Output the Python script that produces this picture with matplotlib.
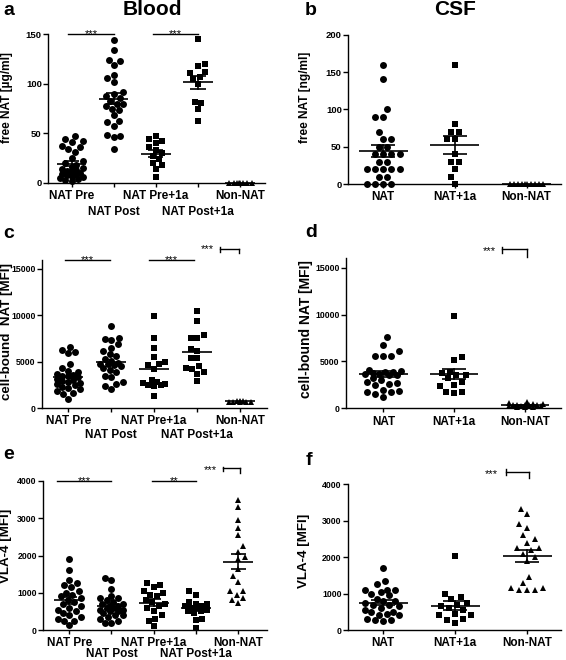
import numpy as np
import matplotlib
matplotlib.use('Agg')
import matplotlib.pyplot as plt
from matplotlib.transforms import blended_transform_factory, offset_copy

plt.rcParams['font.family'] = ['Liberation Sans', 'DejaVu Sans']
plt.rcParams['font.weight'] = 'bold'

W, H, DPI = 566, 660, 100

# ---------------- data ----------------
blood_labels = ['NAT Pre', 'NAT Post', 'NAT Pre+1a', 'NAT Post+1a', 'Non-NAT']
csf_labels = ['NAT', 'NAT+1a', 'Non-NAT']

# a: free NAT blood [µg/ml]
a_nat_pre = [47, 44, 42, 41, 37, 36, 34, 31, 25, 22, 20, 18, 16, 15, 14, 13, 12, 11, 10, 9, 8, 8, 7, 6, 5, 4, 3, 2]
a_nat_post = [144, 134, 124, 123, 119, 109, 106, 102, 92, 90, 88, 86, 83, 80, 80, 78, 75, 73, 68, 62, 61, 57, 48, 47, 46, 34]
a_nat_pre_1a = [47, 44, 42, 40, 36, 33, 30, 27, 24, 20, 18, 14, 6]
a_nat_post_1a = [145, 120, 118, 112, 111, 107, 105, 100, 82, 81, 75, 62]
a_non_nat = [0, 0, 0, 0, 0, 0, 0, 0]

# b: free NAT CSF [ng/ml]
b_nat = [160, 140, 100, 90, 90, 70, 60, 60, 50, 50, 40, 40, 40, 40, 30, 30, 20, 20, 20, 20, 20, 10, 10, 0, 0, 0, 0]
b_nat_1a = [160, 80, 70, 70, 60, 60, 40, 30, 30, 20, 10, 0]
b_non_nat = [0, 0, 0, 0, 0, 0, 0, 0, 0, 0]

# c: cell-bound NAT blood [MFI]
c_nat_pre = [6600, 6300, 6000, 5900, 4700, 4300, 4000, 3900, 3700, 3600, 3500, 3400, 3300, 3100, 3000, 2900, 2800, 2700, 2600, 2500, 2300, 2200, 2000, 1800, 1600, 1500, 1000]
c_nat_post = [8800, 7600, 7400, 7300, 6900, 6500, 6200, 5800, 5600, 5300, 5100, 4900, 4800, 4600, 4500, 4300, 4100, 3900, 3500, 3300, 2800, 2600, 2400, 2000, 4700]
c_nat_pre_1a = [9900, 7600, 6500, 5500, 5000, 4600, 4800, 4200, 3000, 2800, 2700, 2600, 2500, 2500, 2400, 1300]
c_nat_post_1a = [10500, 9400, 7900, 7600, 7600, 6400, 6200, 5400, 5400, 4500, 4300, 4200, 3900, 3700, 2900]
c_non_nat = [800, 750, 700, 700, 650, 650, 600, 800]

# d: cell-bound NAT CSF [MFI]
d_nat = [7600, 6800, 6100, 5600, 5600, 5600, 4100, 4000, 3900, 3900, 3800, 3700, 3700, 3600, 3500, 3200, 3000, 2800, 2700, 2600, 2500, 2000, 1800, 1700, 1700, 1500, 1200]
d_nat_1a = [9800, 5500, 5100, 3900, 3800, 3600, 3500, 3200, 2800, 2500, 2400, 1700, 1700, 1600]
d_non_nat = [700, 600, 500, 450, 400, 350, 300, 300, 300, 250, 200, 200, 150, 100, 100]

# e: VLA-4 blood [MFI]
e_nat_pre = [1900, 1600, 1350, 1250, 1200, 1150, 1050, 1000, 950, 900, 850, 800, 750, 700, 650, 600, 550, 500, 450, 400, 350, 300, 250, 250, 130]
e_nat_post = [1400, 1350, 1100, 900, 850, 850, 800, 750, 700, 700, 650, 650, 600, 600, 550, 550, 500, 500, 450, 400, 400, 350, 300, 250, 200, 200]
e_nat_pre_1a = [1250, 1200, 1150, 1050, 1000, 950, 900, 800, 750, 700, 650, 600, 500, 400, 300, 250, 100]
e_nat_post_1a = [1050, 950, 750, 700, 700, 650, 650, 600, 600, 550, 500, 500, 450, 300, 280, 60]
e_non_nat = [3500, 3300, 2950, 2750, 2550, 2250, 2100, 1950, 1900, 1650, 1450, 1300, 1050, 1050, 950, 850, 800, 720]

# f: VLA-4 CSF [MFI]
f_nat = [1700, 1350, 1250, 1100, 1100, 1100, 1050, 1000, 950, 850, 800, 800, 750, 700, 700, 650, 600, 550, 500, 500, 450, 400, 400, 300, 280, 270, 250]
f_nat_1a = [2030, 1000, 900, 850, 750, 700, 650, 600, 550, 450, 400, 400, 300, 280, 200]
f_non_nat = [3330, 3180, 2900, 2800, 2600, 2500, 2400, 2250, 2250, 2200, 2100, 2000, 1900, 1450, 1300, 1150, 1100, 1100, 1100, 1150]

# ---------------- helpers ----------------
fig = plt.figure(figsize=(W / DPI, H / DPI), dpi=DPI)


def add_ax(l, t, r, b):
    return fig.add_axes([l / W, 1 - b / H, (r - l) / W, (b - t) / H])


def swarm_x(ax, center, vals, gap, maxw):
    """Beeswarm layout (pixel space) limited to +-maxw pixels around the category."""
    vals = np.asarray(vals, float)
    tr = ax.transData
    cx = tr.transform((center, 0))[0]
    ypx = tr.transform(np.column_stack([np.full(len(vals), center), vals]))[:, 1]
    order = np.argsort(vals, kind='stable')
    step = gap / 4.0
    kmax = int(maxw / step)
    placed = []
    xs = np.zeros(len(vals))
    for n, i in enumerate(order):
        y = ypx[i]
        cands = [0]
        for k in range(1, kmax + 1):
            cands += [k, -k] if n % 2 == 0 else [-k, k]
        best, bestd, found = None, -1, None
        for s in cands:
            x = cx + s * step
            d = min([np.hypot(x - px, y - py) for px, py in placed] or [1e9])
            if d >= gap - 1e-6:
                found = x
                break
            if d > bestd + 0.5:
                best, bestd = x, d
        if found is None:
            found = best
        placed.append((found, y))
        xs[i] = found
    inv = tr.inverted()
    return inv.transform(np.column_stack([xs, ypx]))[:, 0]


def panel(rect, groups, markers, msizes, labels, xlim, ylim, yticks, stagger,
          sem, gap, maxw, half=0.35, cap=0.18, ytick_fs=6.3, row2=11.0):
    ax = add_ax(*rect)
    ax.set_xlim(*xlim)
    ax.set_ylim(*ylim)
    for sp in ['top', 'right']:
        ax.spines[sp].set_visible(False)
    for sp in ['left', 'bottom']:
        ax.spines[sp].set_linewidth(1.0)
    ax.set_yticks(yticks)
    ax.set_yticklabels([str(v) for v in yticks], fontsize=ytick_fs, fontweight='bold')
    pos = np.arange(len(groups))
    ax.set_xticks(pos)
    ax.set_xticklabels(labels, fontsize=8.5, fontweight='bold')
    ax.tick_params(axis='y', direction='out', length=3.5, width=1.0, pad=1)
    ax.tick_params(axis='x', direction='out', length=3.0, width=1.0, pad=2.3)
    if stagger:
        for i, t in enumerate(ax.xaxis.get_major_ticks()):
            if i % 2 == 1:
                t.set_pad(2.3 + row2)
    for i, (vals, m, ms) in enumerate(zip(groups, markers, msizes)):
        xs = swarm_x(ax, i, vals, gap, maxw)
        ax.plot(xs, vals, linestyle='none', marker=m, markersize=ms, color='black',
                markeredgewidth=0, clip_on=False, zorder=3)
        mu = np.mean(vals)
        ax.plot([i - half, i + half], [mu, mu], color='black', lw=1.2, zorder=4,
                clip_on=False, solid_capstyle='butt')
        if sem:
            se = np.std(vals, ddof=1) / np.sqrt(len(vals))
            if se > 0:
                ax.plot([i, i], [mu - se, mu + se], color='black', lw=1.2, zorder=4)
                for yy in (mu - se, mu + se):
                    ax.plot([i - cap, i + cap], [yy, yy], color='black', lw=1.2,
                            zorder=4, solid_capstyle='butt')
    return ax


def sig_line(ax, x0, x1, y, text, fs=8):
    ax.plot([x0, x1], [y, y], color='black', lw=1.0, clip_on=False)
    tr = offset_copy(ax.transData, fig=fig, x=0, y=-3, units='dots')
    ax.text((x0 + x1) / 2, y, text, transform=tr, ha='center', va='baseline',
            fontsize=fs, fontweight='normal', clip_on=False)


def bracket(ax, xt, yt, x0, x1, yb, ytick0, ytick1, yend, fs=8):
    bt = blended_transform_factory(ax.transData, ax.transAxes)
    ax.plot([x0, x1], [yb, yb], color='black', lw=1.0, transform=bt, clip_on=False)
    ax.plot([x0, x0], [ytick0, ytick1], color='black', lw=1.0, transform=bt, clip_on=False)
    ax.plot([x1, x1], [yb, yend], color='black', lw=1.0, transform=bt, clip_on=False)
    tr = offset_copy(bt, fig=fig, x=0, y=-5, units='dots')
    ax.text(xt, yt, '***', transform=tr, ha='center', va='baseline', fontsize=fs,
            fontweight='normal', clip_on=False)


def ylab(x, y, text, fs):
    fig.text(x / W, 1 - y / H, text, rotation=90, ha='center', va='center',
             fontsize=fs, fontweight='bold')


def letter(x, y, text, fs=14):
    fig.text(x / W, 1 - y / H, text, ha='left', va='baseline', fontsize=fs,
             fontweight='bold')


blood_m = ['o', 'o', 's', 's', '^']
csf_m = ['o', 's', '^']

# a
ax_a = panel((48, 34.3, 265, 182.7),
             [a_nat_pre, a_nat_post, a_nat_pre_1a, a_nat_post_1a, a_non_nat],
             blood_m, [5.0, 5.0, 4.6, 4.6, 3.8], blood_labels, (-0.56, 4.59), (0, 150),
             [0, 50, 100, 150], True, True, 6.5, 12, ytick_fs=6.8, row2=11.5)
sig_line(ax_a, -0.08, 1.0, 150, '***')
sig_line(ax_a, 1.93, 3.0, 150, '***')

# b
ax_b = panel((348, 34.7, 561, 184), [b_nat, b_nat_1a, b_non_nat], csf_m,
             [5.0, 4.6, 3.8], csf_labels, (-0.49, 2.48), (0, 200),
             [0, 50, 100, 150, 200], False, True, 8.2, 19, half=0.34, cap=0.17, ytick_fs=6.8)

# c
ax_c = panel((42, 259.7, 267, 408),
             [c_nat_pre, c_nat_post, c_nat_pre_1a, c_nat_post_1a, c_non_nat],
             blood_m, [5.0, 5.0, 4.6, 4.6, 4.0], blood_labels, (-0.61, 4.63), (0, 16000),
             [0, 5000, 10000, 15000], True, False, 6.5, 12, row2=10.0)
sig_line(ax_c, -0.08, 0.97, 16000, '***')
sig_line(ax_c, 1.88, 2.92, 16000, '***')
bracket(ax_c, 3.25, 1.085, 3.54, 3.97, 1.07, 1.054, 1.088, 1.043)

# d
ax_d = panel((346, 258.3, 561, 408.3), [d_nat, d_nat_1a, d_non_nat], csf_m,
             [5.0, 4.6, 4.2], csf_labels, (-0.53, 2.51), (0, 16000),
             [0, 5000, 10000, 15000], False, True, 8.0, 19, half=0.34, cap=0.17)
bracket(ax_d, 1.49, 1.06, 1.68, 2.03, 1.06, 1.038, 1.076, 1.009)

# e
ax_e = panel((43, 481, 267, 630),
             [e_nat_pre, e_nat_post, e_nat_pre_1a, e_nat_post_1a, e_non_nat],
             blood_m, [5.0, 5.0, 4.6, 4.6, 5.0], blood_labels, (-0.62, 4.68), (0, 4000),
             [0, 1000, 2000, 3000, 4000], True, True, 6.5, 12, row2=7.8)
sig_line(ax_e, -0.3, 1.0, 4000, '***')
sig_line(ax_e, 1.95, 3.0, 4000, '**')
bracket(ax_e, 3.33, 1.09, 3.63, 4.04, 1.085, 1.069, 1.096, 1.052)

# f
ax_f = panel((348, 484.3, 561, 630), [f_nat, f_nat_1a, f_non_nat], csf_m,
             [5.0, 4.6, 5.0], csf_labels, (-0.49, 2.47), (0, 4000),
             [0, 1000, 2000, 3000, 4000], False, True, 8.0, 19, half=0.34, cap=0.17)
bracket(ax_f, 1.5, 1.086, 1.7, 2.03, 1.086, 1.064, 1.103, 1.041)

# y labels
ylab(7, 98, 'free NAT [µg/ml]', 8.6)
ylab(305, 97.5, 'free NAT [ng/ml]', 8.6)
ylab(7, 331.7, 'cell-bound  NAT [MFI]', 9.6)
ylab(306, 329, 'cell-bound NAT [MFI]', 10.0)
ylab(6.5, 545.5, 'VLA-4 [MFI]', 9.6)
ylab(304, 550.5, 'VLA-4 [MFI]', 9.6)

# titles and panel letters
fig.text(152 / W, 1 - 15 / H, 'Blood', ha='center', va='baseline', fontsize=15, fontweight='bold')
fig.text(455 / W, 1 - 15 / H, 'CSF', ha='center', va='baseline', fontsize=15, fontweight='bold')
letter(3, 15, 'a')
letter(305, 15, 'b')
letter(3, 238, 'c')
letter(305, 236.7, 'd')
letter(3, 459, 'e')
letter(306, 465, 'f')

fig.savefig('out.png', dpi=DPI)
